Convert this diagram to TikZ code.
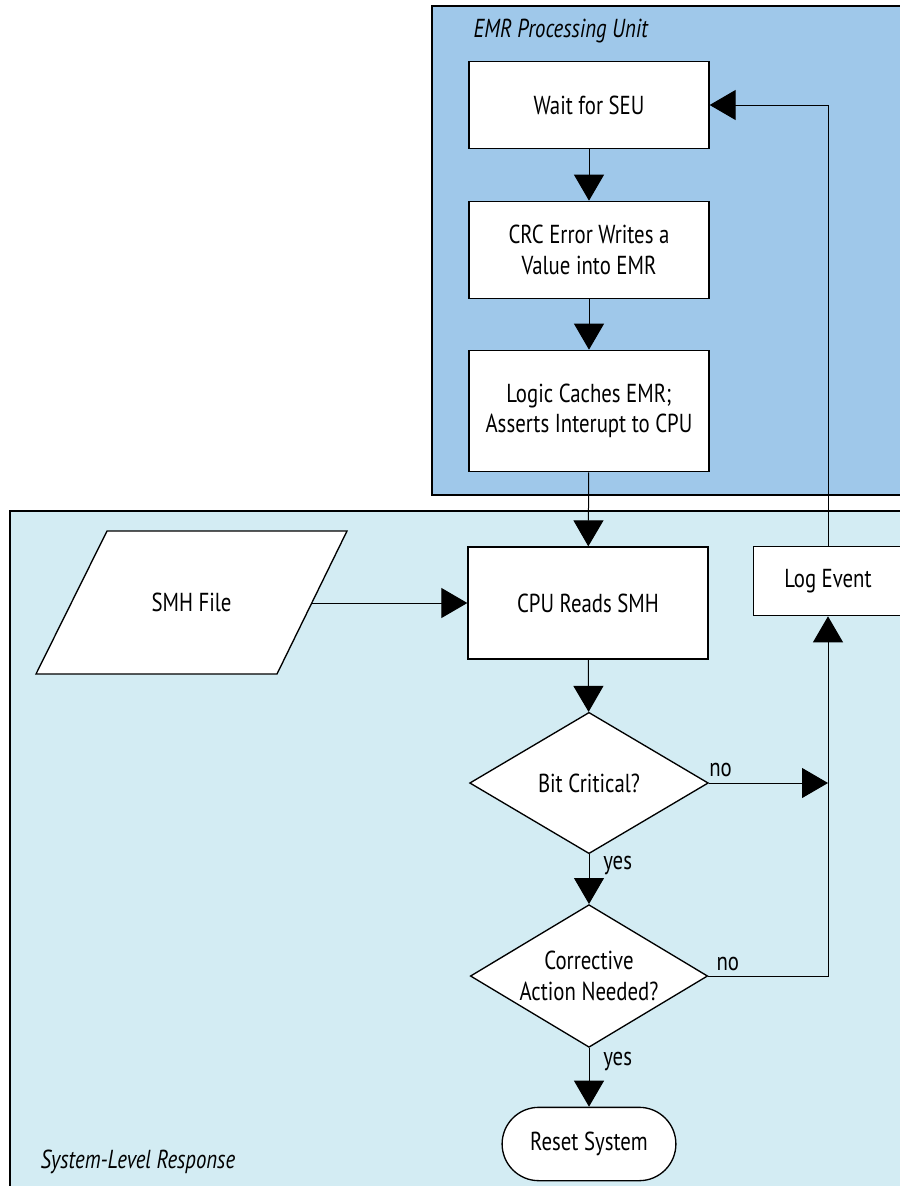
\documentclass[tikz,border=0pt]{standalone}
\usepackage{fontspec}
\setmainfont[FakeStretch=0.8]{PT Sans}
\usepackage{tikz}
\usetikzlibrary{arrows.meta,shapes.geometric,shapes.misc,calc}
\definecolor{emrblue}{HTML}{9FC8EA}
\definecolor{syscyan}{HTML}{D3ECF3}

\begin{document}
\begin{tikzpicture}[x=0.75pt,y=-0.75pt,
  font=\fontsize{19.5}{23}\selectfont,
  frame/.style={draw,line width=1pt},
  procbox/.style={draw,fill=white,line width=1pt,align=center,minimum width=180pt},
  decision/.style={diamond,draw,fill=white,line width=1pt,align=center,inner sep=0pt,aspect=1.67},
  iobox/.style={draw,fill=white,line width=1pt},
  termbox/.style={rounded rectangle,draw,fill=white,line width=1pt},
  flow/.style={line width=0.75pt,-{Triangle[length=19.5pt,width=22.5pt]}},
  answer/.style={inner sep=0pt}]
\clip (0,0) rectangle (900,1186);
% frames
\draw[frame,fill=emrblue] (432,6) rectangle (912,495);
\draw[frame,fill=syscyan] (10,511) rectangle (912,1198);
\node[anchor=base west,font=\fontsize{19.5}{23}\selectfont\itshape] (emrtitle) at (469,37) {EMR Processing Unit};
\node[anchor=base west,font=\fontsize{19.5}{23}\selectfont\itshape] (systitle) at (36,1168) {System-Level Response};
% EMR processing
\node[procbox,minimum height=65pt] (wait) at (589,105) {Wait for SEU};
\node[procbox,minimum height=73pt] (crc) at (589,250) {CRC Error Writes a\\Value into EMR};
\node[procbox,minimum height=91pt] (logic) at (589,411) {Logic Caches EMR;\\Asserts Interupt to CPU};
% system level
\draw[iobox] (36,674) -- (107,531) -- (347,531) -- (277,674) -- cycle;
\node (smh) at (191.5,602.5) {SMH File};
\coordinate (smhout) at (312,603);
\node[procbox,minimum height=84pt] (cpu) at (588,603) {CPU Reads SMH};
\node[procbox,minimum width=112pt,minimum height=52pt] (log) at (828,581) {Log Event};
\node[decision,minimum width=179pt,minimum height=106pt] (bit) at (589,783) {Bit Critical?};
\node[decision,minimum width=178pt,minimum height=107pt] (corr) at (589,976) {Corrective\\Action Needed?};
\node[termbox,minimum width=137pt,minimum height=55pt] (reset) at (589,1144) {Reset System};
\coordinate (nojoin) at (log.south |- bit.east);
\coordinate (corrjoin) at (log.south |- corr.east);
\coordinate (loopjoin) at (log.north |- wait.east);
% connectors
\draw[flow] (wait) -- (crc);
\draw[flow] (crc) -- (logic);
\draw[flow] (logic) -- (cpu);
\draw[flow] (smhout) -- (cpu.west);
\draw[flow] (cpu) -- (bit);
\draw[flow] (bit.south) -- (corr.north);
\draw[flow] (corr.south) -- (reset.north);
\draw[flow] (bit.east) -- (nojoin);
\draw[flow] (corr.east) -- (corrjoin) -- (log.south);
\draw[flow] (log.north) -- (loopjoin) -- (wait.east);
% answers
\node[answer,anchor=south west] (bitno) at ($(bit.east)+(0,-6)$) {no};
\node[answer,anchor=north west] (bityes) at ($(bit.south)+(14,2)$) {yes};
\node[answer,anchor=south west] (corrno) at ($(corr.east)+(8,-5)$) {no};
\node[answer,anchor=north west] (corryes) at ($(corr.south)+(14,4)$) {yes};
\end{tikzpicture}
\end{document}
